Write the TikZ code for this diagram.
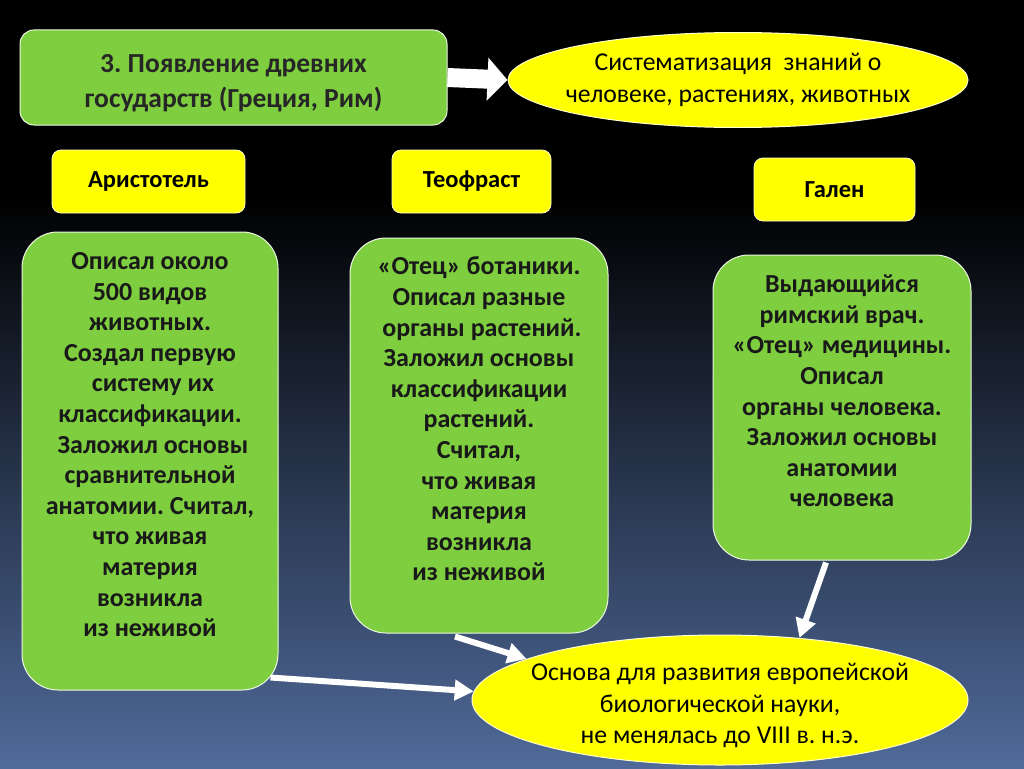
\documentclass[tikz,border=0pt]{standalone}
\usepackage{fontspec}
\setmainfont{Carlito}
\frenchspacing
\usetikzlibrary{shapes}
\usetikzlibrary{positioning}
\usetikzlibrary{arrows.meta}
\usetikzlibrary{calc}
\definecolor{boxgreen}{RGB}{126,206,64}
\definecolor{boxyellow}{RGB}{255,255,0}
\definecolor{bgblue}{RGB}{80,106,154}
\definecolor{bgnavy}{RGB}{14,20,34}
\tikzset{
    titlebox/.style = {rectangle, rounded corners=14pt, draw=white!85!boxgreen, line width=1pt, fill=boxgreen, align=center, inner sep=0pt, text height=64pt, font=\bfseries\fontsize{27.5}{35}\selectfont, text=black!85},
    namebox/.style = {rectangle, rounded corners=9pt, draw=white!80!boxyellow, line width=0.8pt, fill=boxyellow, align=center, inner sep=0pt, font=\bfseries\fontsize{24.5}{28}\selectfont, text=black},
    textbox/.style = {rectangle, rounded corners=36pt, draw=white!85!boxgreen, line width=1pt, fill=boxgreen, align=center, inner sep=0pt, text depth=33pt, font=\bfseries\fontsize{26}{30.6}\selectfont, text=black!90},
    yellowell/.style = {ellipse, draw=white!80!boxyellow, line width=1pt, fill=boxyellow, align=center, inner xsep=-20pt, inner ysep=0pt, font=\fontsize{25.7}{31.5}\selectfont, text=black},
    bigarrow/.style = {-{Triangle[length=20pt,width=42pt]}, line width=19pt, white},
    smallarrow/.style = {-{Triangle[length=19pt,width=20pt]}, line width=6pt, white}
}

\begin{document}
\begin{tikzpicture}[x=1pt,y=-1pt]
%
\fill[black] (0,0) rectangle (1024,200);
\shade[top color=black, middle color=bgnavy, bottom color=bgblue] (0,199) rectangle (1024,768);
\useasboundingbox (0,0) rectangle (1024,768);
%
\node[titlebox, minimum width=427pt, minimum height=95pt] at (233.5,77.5) (era) {3. Появление древних\\государств (Греция, Рим)};
\node[yellowell, minimum width=460pt, minimum height=95pt] at (738,80) (system) {Систематизация\ \ знаний о\\человеке, растениях, животных};
%
\node[namebox, minimum width=193pt, minimum height=63pt] at (148.5,181.5) (aris) {Аристотель};
\node[namebox, minimum width=159pt, minimum height=63pt] at (471.5,181.5) (teof) {Теофраст};
\node[namebox, minimum width=161pt, minimum height=63pt] at (834.5,189.5) (galen) {Гален};
%
\node[textbox, minimum width=256pt, minimum height=458pt] at (150,461) (arisbox) {Описал около\\500 видов\\животных.\\Создал первую\\\ систему их\\классификации.\\\ Заложил основы\\сравнительной\\анатомии. Считал,\\что живая\\материя\\возникла\\из неживой};
\node[textbox, minimum width=258pt, minimum height=395pt] at (479,435.5) (teofbox) {«Отец» ботаники.\\Описал разные\\\ органы растений.\\Заложил основы\\классификации\\растений.\\Считал,\\что живая\\материя\\возникла\\из неживой};
\node[textbox, minimum width=258pt, minimum height=305pt] at (842,407.5) (galenbox) {Выдающийся\\римский врач.\\«Отец» медицины.\\Описал\\органы человека.\\Заложил основы\\анатомии\\человека};
%
\node[yellowell, minimum width=496pt, minimum height=130pt, text height=92pt, inner ysep=-4pt] at (720,700) (base) {Основа для развития европейской\\биологической науки,\\не менялась до VIII в. н.э.};
%
\draw[bigarrow] (era.east) -- (system.west);
\draw[smallarrow] ($(arisbox.south east)+(-8,-13)$) -- (base.178);
\draw[smallarrow] ($(teofbox.south)+(-24,3)$) -- (base.168);
\draw[smallarrow] ($(galenbox.south)+(-16,2)$) -- (base.38);

\end{tikzpicture}
\end{document}
